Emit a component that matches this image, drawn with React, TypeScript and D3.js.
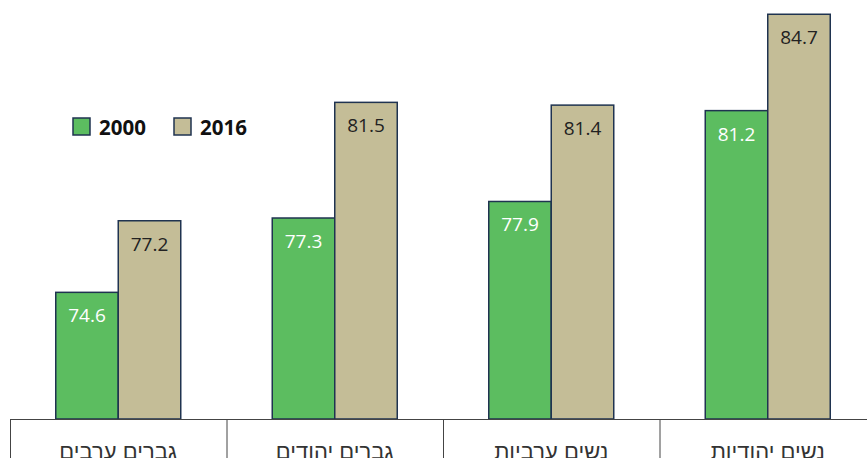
import React from "react";
import * as d3 from "d3";

const categories = ["גברים ערבים", "גברים יהודים", "נשים ערביות", "נשים יהודיות"];
const series = ["2000", "2016"];
const values2000 = [74.6, 77.3, 77.9, 81.2];
const values2016 = [77.2, 81.5, 81.4, 84.7];

const W = 867;
const H = 458;
const colors = ["#5cbd60", "#c4bd97"];
const labelColors = ["#ffffff", "#222222"];
const stroke = "#1f3350";
const font = "'Open Sans', 'DejaVu Sans', sans-serif";
const hebFont = "'Liberation Sans', Arial, sans-serif";

export default function App() {
  const x = d3.scaleBand<string>().domain(categories).range([10, 876]).paddingInner(0).paddingOuter(0);
  const inner = d3.scaleBand<string>().domain(series).range([0, 125]);
  const groupOffset = (x.bandwidth() - 125) / 2;
  const y = d3.scaleLinear().domain([70, 85]).range([419, 6]);
  const data = [values2000, values2016];

  return (
    <svg width={W} height={H} style={{ position: "absolute", left: 0, top: 0, fontFamily: font }}>
      <rect x={0} y={0} width={W} height={H} fill="#fff" />
      {categories.map((c, ci) => (
        <g key={c}>
          {series.map((s, si) => {
            const v = data[si][ci];
            const bx = (x(c) as number) + groupOffset + (inner(s) as number);
            const bw = inner.bandwidth();
            return (
              <g key={s}>
                <rect x={bx} y={y(v)} width={bw} height={y(70) - y(v)} fill={colors[si]} stroke={stroke} strokeWidth={1.5} />
                <text x={bx + bw / 2} y={y(v) + 30} textAnchor="middle" fontSize={19} fill={labelColors[si]}>
                  {v.toFixed(1)}
                </text>
              </g>
            );
          })}
        </g>
      ))}
      <line x1={10} x2={W} y1={419.5} y2={419.5} stroke="#444" strokeWidth={1} />
      {categories.map((c) => (
        <line key={"d" + c} x1={(x(c) as number) + 0.5} x2={(x(c) as number) + 0.5} y1={419} y2={H} stroke="#444" strokeWidth={1} />
      ))}
      {categories.map((c) => (
        <text key={"t" + c} x={(x(c) as number) + x.bandwidth() / 2} y={459} textAnchor="middle" fontSize={22} fill="#333" direction="rtl" fontFamily={hebFont}>
          {c}
        </text>
      ))}
      <g>
        {series.map((s, si) => (
          <g key={s} transform={`translate(${73 + si * 101},118)`}>
            <rect x={0} y={0} width={17} height={17} fill={colors[si]} stroke={stroke} strokeWidth={1.5} />
            <text x={26} y={16.5} fontSize={20.5} fontWeight="bold" fill="#111">
              {s}
            </text>
          </g>
        ))}
      </g>
    </svg>
  );
}
